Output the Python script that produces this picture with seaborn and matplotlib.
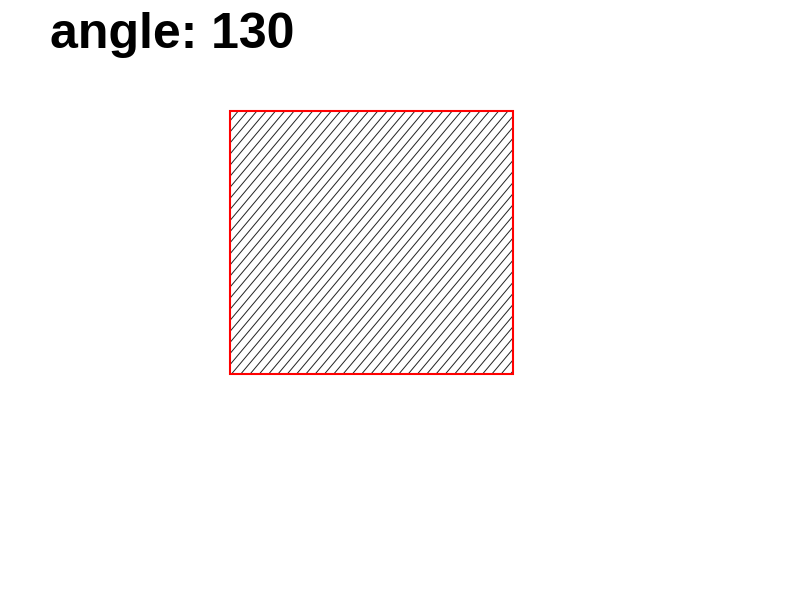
import numpy as np
import matplotlib
matplotlib.use('Agg')
import matplotlib.pyplot as plt
import seaborn as sns
from matplotlib.patches import Rectangle

sns.set_style('white')
plt.rcParams['font.family'] = ['Liberation Sans', 'DejaVu Sans']

title = 'angle: 130'
angle = 130
box_x = [230, 513]
box_y = [111, 374]
spacing = 9.3

fig = plt.figure(figsize=(8, 6), dpi=100)
ax = fig.add_axes([0, 0, 1, 1])
ax.set_xlim(0, 800)
ax.set_ylim(600, 0)
ax.axis('off')

rect = Rectangle((box_x[0], box_y[0]), box_x[1] - box_x[0], box_y[1] - box_y[0],
                 fill=False, edgecolor='red', linewidth=1.5, zorder=3)
ax.add_patch(rect)

# hatch lines, direction from the angle (screen y points down)
theta = np.deg2rad(180 - angle)
dx, dy = np.cos(theta), -np.sin(theta)
w = box_x[1] - box_x[0]
h = box_y[1] - box_y[0]
L = (w + h) * 2
for off in np.arange(-2 * L, 2 * L, spacing):
    x0 = box_x[0] + off
    y0 = box_y[1]
    ln, = ax.plot([x0 - dx * L, x0 + dx * L], [y0 - dy * L, y0 + dy * L],
                  color='#222222', linewidth=0.7, zorder=2)
    ln.set_clip_path(rect)

fig.text(50 / 800, 1 - 35 / 600, title, fontsize=36, fontweight='bold',
         va='center', color='black')
fig.savefig('out.png', dpi=100)
